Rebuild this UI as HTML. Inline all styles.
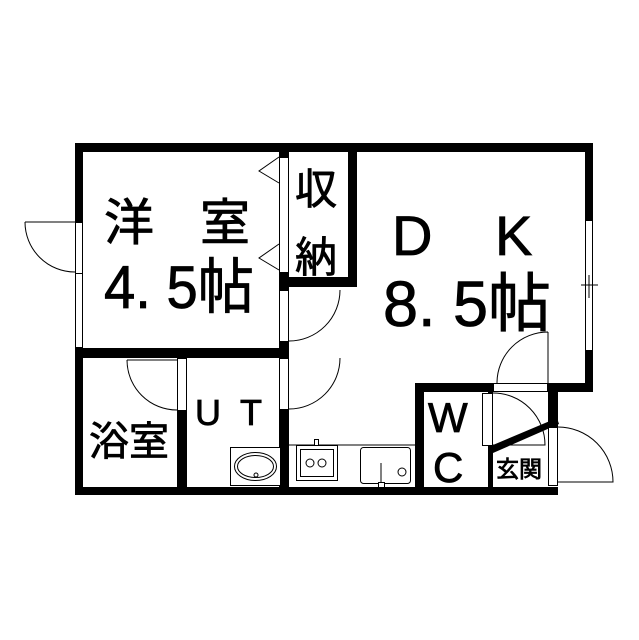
<!DOCTYPE html>
<html><head><meta charset="utf-8"><style>
html,body{margin:0;padding:0;background:#fff}
svg{display:block}
text{font-family:"Liberation Sans","Noto Sans CJK JP",sans-serif;fill:#000;stroke:#000;stroke-width:0.8}
</style></head><body>
<svg width="639" height="640" viewBox="0 0 639 640" xmlns="http://www.w3.org/2000/svg">
<rect width="639" height="640" fill="#fff"/>
<g fill="none" stroke="#000" stroke-width="1">
<path d="M25,222 H75 M25,222 A50,50 0 0 0 75,272"/>
<path d="M340,290 A51,51 0 0 1 289,341"/>
<path d="M340,358 A51,51 0 0 1 289,409"/>
<path d="M127,360 H177 M127,360 A50,50 0 0 0 177,410"/>
<path d="M548,332 V383 M548,332 A51,51 0 0 0 497,383"/>
<path d="M493,393 A52,52 0 0 1 545,445 H493"/>
<path d="M558,427 A55,55 0 0 1 613,482 H558"/>
<path d="M279,157 L259,171 L279,183"/>
<path d="M279,244 L259,258 L279,270"/>
<path d="M289,445 H415"/>
</g>
<g fill="#000">
<rect x="75" y="143" width="518" height="9"/>
<rect x="75" y="143" width="8" height="79"/>
<rect x="75" y="347" width="8" height="148"/>
<rect x="75" y="487" width="483" height="8"/>
<rect x="585" y="143" width="8" height="77"/>
<rect x="585" y="350" width="8" height="42"/>
<rect x="548" y="383" width="45" height="9"/>
<rect x="415" y="383" width="78" height="9"/>
<rect x="415" y="383" width="9" height="112"/>
<rect x="488" y="392" width="5" height="103"/>
<rect x="548" y="383" width="10" height="44"/>
<rect x="75" y="348" width="214" height="10"/>
<rect x="279" y="143" width="10" height="14"/>
<rect x="279" y="273" width="10" height="17"/>
<rect x="279" y="341" width="10" height="17"/>
<rect x="279" y="409" width="10" height="86"/>
<rect x="348" y="143" width="9" height="144"/>
<rect x="279" y="277" width="78" height="10"/>
<rect x="177" y="410" width="10" height="85"/>
<polygon points="493,445 557,418 559,424 493,453"/>
</g>
<g fill="#fff" stroke="#000" stroke-width="1">
<rect x="75.5" y="222.5" width="7" height="51"/>
<rect x="75.5" y="273.5" width="7" height="74"/>
<rect x="279.5" y="157.5" width="9" height="115"/>
<rect x="279.5" y="290.5" width="9" height="51"/>
<rect x="279.5" y="358.5" width="9" height="51"/>
<rect x="177.5" y="358.5" width="9" height="52"/>
<rect x="585.5" y="220.5" width="7" height="130"/>
<rect x="493.5" y="383.5" width="54" height="8"/>
<rect x="482.5" y="393.5" width="10" height="52"/>
<rect x="548.5" y="427.5" width="9" height="58"/>
<rect x="230.5" y="447.5" width="50" height="38"/>
<ellipse cx="255.5" cy="466.5" rx="21" ry="14"/>
<ellipse cx="255.5" cy="466.5" rx="18" ry="11"/>
<circle cx="256" cy="475" r="2"/>
<rect x="296.5" y="445.5" width="41" height="35"/>
<rect x="300.5" y="449.5" width="33" height="27"/>
<circle cx="310" cy="463" r="4"/>
<circle cx="322" cy="463" r="4"/>
<rect x="314.5" y="439.5" width="4" height="6"/>
<rect x="360.5" y="447.5" width="50" height="36" rx="3"/>
<circle cx="402" cy="472" r="4"/>
<rect x="378.5" y="482.5" width="6" height="5"/>
</g>
<path d="M381,463 V483 M581,285 H598 M589,275 V298" stroke="#000" stroke-width="1"/>
<g>
<text x="104" y="240" font-size="50">洋</text>
<text x="200" y="240" font-size="50">室</text>
<text x="104" y="308" font-size="60" stroke-width="1.6" textLength="150" lengthAdjust="spacingAndGlyphs">4. 5帖</text>
<text x="295" y="204" font-size="42">収</text>
<text x="295" y="272" font-size="42">納</text>
<text x="392" y="255" font-size="56">D</text>
<text x="495" y="255" font-size="56">K</text>
<text x="383" y="326" font-size="64" stroke-width="1.6" textLength="168" lengthAdjust="spacingAndGlyphs">8. 5帖</text>
<text x="89" y="455" font-size="40">浴室</text>
<text x="195" y="425" font-size="36">U</text>
<text x="240" y="425" font-size="36">T</text>
<text x="428" y="432" font-size="42">W</text>
<text x="433" y="482" font-size="42">C</text>
<text x="496" y="477" font-size="23">玄関</text>
</g>
</svg>
</body></html>
